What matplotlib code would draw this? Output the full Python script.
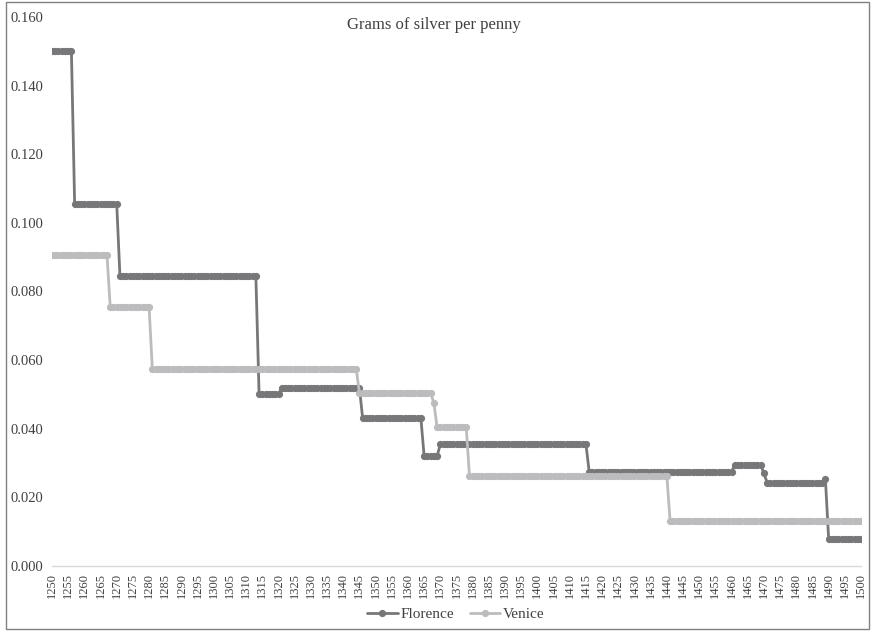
import numpy as np
import matplotlib
matplotlib.use("Agg")
import matplotlib.pyplot as plt
from matplotlib.patches import Rectangle

# Data: step levels (value, number of consecutive years), years 1250..1500
years = np.arange(1250, 1501)
florence_levels = [0.150, 0.1055, 0.0845, 0.050, 0.052, 0.043, 0.032, 0.0355,
                   0.0275, 0.0295, 0.027, 0.0243, 0.0253, 0.008]
florence_counts = [7, 14, 43, 7, 25, 19, 5, 46, 45, 9, 1, 18, 1, 11]
venice_levels = [0.0905, 0.0755, 0.0575, 0.0505, 0.0475, 0.0405, 0.0263, 0.0132]
venice_counts = [18, 13, 64, 23, 1, 10, 62, 60]

florence = np.repeat(florence_levels, florence_counts)
venice = np.repeat(venice_levels, venice_counts)

x_tick_labels = [str(y) for y in range(1250, 1501, 5)]
y_ticks = [0.000, 0.020, 0.040, 0.060, 0.080, 0.100, 0.120, 0.140, 0.160]

FONT = ["Liberation Serif", "DejaVu Serif"]
plt.rcParams["font.family"] = FONT

W, H = 871, 631
fig = plt.figure(figsize=(W / 100, H / 100), dpi=100)
ax = fig.add_axes([52 / W, 1 - 566 / H, (861 - 52) / W, (566 - 17) / H])

c_flo = "#77777a"
c_ven = "#bcbcbf"
ax.plot(years, florence, color=c_flo, lw=2.0, marker="o", ms=5.2,
        markeredgewidth=0, label="Florence", solid_capstyle="round", zorder=3)
ax.plot(years, venice, color=c_ven, lw=2.0, marker="o", ms=5.2,
        markeredgewidth=0, label="Venice", solid_capstyle="round", zorder=4)

ax.set_xlim(1250, 1500)
ax.set_ylim(0, 0.160)
ax.set_yticks(y_ticks)
ax.set_yticklabels([f"{v:.3f}" for v in y_ticks], fontsize=10.5, color="#404040")
ax.set_xticks(list(range(1250, 1501, 5)))
ax.set_xticklabels(x_tick_labels, rotation=90, fontsize=9, color="#404040")
ax.tick_params(axis="both", length=0)
ax.tick_params(axis="x", pad=5)
ax.tick_params(axis="y", pad=6)

for s in ["top", "right", "left"]:
    ax.spines[s].set_visible(False)
ax.spines["bottom"].set_color("#d9d9d9")
ax.spines["bottom"].set_linewidth(1.0)

fig.text(434 / W, 1 - 25 / H, "Grams of silver per penny", ha="center",
         va="center", fontsize=12, color="#404040")

leg = fig.legend(loc="center", bbox_to_anchor=(456 / W, 1 - 614 / H), ncol=2,
                 frameon=False, fontsize=11, handlelength=2.0,
                 columnspacing=1.0, handletextpad=0.2)
for t in leg.get_texts():
    t.set_color("#404040")

fig.patches.append(Rectangle((5.5 / W, 2 / H), (869 - 5.5) / W, (629 - 2) / H,
                             transform=fig.transFigure, fill=False,
                             edgecolor="#808080", lw=1.0))

fig.savefig("out.png", dpi=100, facecolor="white")
